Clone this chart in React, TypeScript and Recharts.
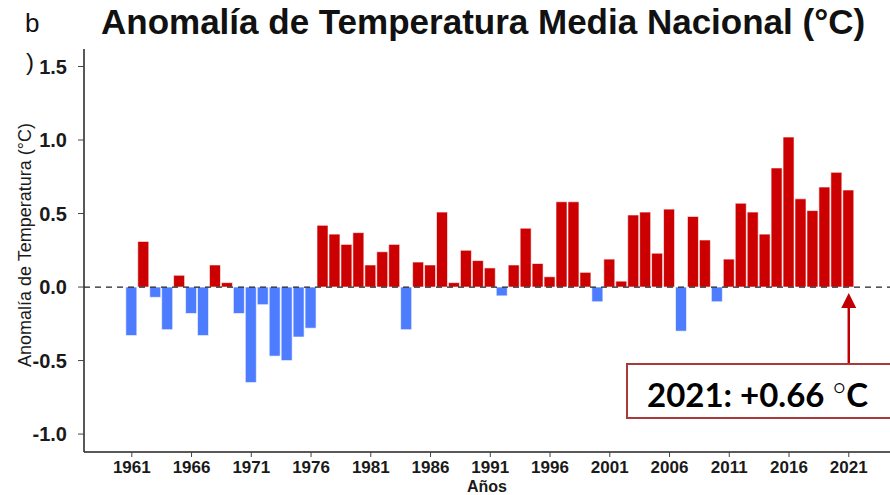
import { Bar, BarChart, Cell, ReferenceLine, XAxis, YAxis } from "recharts";

// Anomalía anual de temperatura media nacional (°C), 1961-2021
const years = [
  1961, 1962, 1963, 1964, 1965, 1966, 1967, 1968, 1969, 1970,
  1971, 1972, 1973, 1974, 1975, 1976, 1977, 1978, 1979, 1980,
  1981, 1982, 1983, 1984, 1985, 1986, 1987, 1988, 1989, 1990,
  1991, 1992, 1993, 1994, 1995, 1996, 1997, 1998, 1999, 2000,
  2001, 2002, 2003, 2004, 2005, 2006, 2007, 2008, 2009, 2010,
  2011, 2012, 2013, 2014, 2015, 2016, 2017, 2018, 2019, 2020, 2021,
];
const anomalies = [
  -0.33, 0.31, -0.07, -0.29, 0.08, -0.18, -0.33, 0.15, 0.03, -0.18,
  -0.65, -0.12, -0.47, -0.5, -0.34, -0.28, 0.42, 0.36, 0.29, 0.37,
  0.15, 0.24, 0.29, -0.29, 0.17, 0.15, 0.51, 0.03, 0.25, 0.18,
  0.13, -0.06, 0.15, 0.4, 0.16, 0.07, 0.58, 0.58, 0.1, -0.1,
  0.19, 0.04, 0.49, 0.51, 0.23, 0.53, -0.3, 0.48, 0.32, -0.1,
  0.19, 0.57, 0.51, 0.36, 0.81, 1.02, 0.6, 0.52, 0.68, 0.78, 0.66,
];
const xTicks = [1961, 1966, 1971, 1976, 1981, 1986, 1991, 1996, 2001, 2006, 2011, 2016, 2021];
const yTicks = [-1.0, -0.5, 0, 0.5, 1.0, 1.5];

const data = years.map((year, i) => ({ year, anomaly: anomalies[i] }));

const RED = "#cc0000";
const BLUE = "#4d7cff";
const FONT = "Arial, 'Liberation Sans', sans-serif";

// arrow pointing up at the 2021 bar
function Arrow(props: any) {
  const { x1, y1, y2 } = props;
  const top = Math.min(y1, y2);
  const bottom = Math.max(y1, y2);
  return (
    <g>
      <line x1={x1} x2={x1} y1={top + 12} y2={bottom} stroke="#c00000" strokeWidth={2.5} />
      <polygon points={`${x1},${top} ${x1 - 7.5},${top + 15} ${x1 + 7.5},${top + 15}`} fill="#c00000" />
    </g>
  );
}

export default function App() {
  return (
    <div
      style={{
        position: "absolute",
        left: 0,
        top: 0,
        width: 890,
        height: 495,
        overflow: "hidden",
        background: "#fff",
        fontFamily: FONT,
      }}
    >
      <BarChart
        width={890}
        height={495}
        data={data}
        margin={{ top: 49, right: 0, bottom: 0, left: 0 }}
      >
        <XAxis
          dataKey="year"
          type="number"
          domain={[1957, 2024.45]}
          ticks={xTicks}
          interval={0}
          height={43}
          tickSize={5}
          tickMargin={4}
          axisLine={{ stroke: "#222", strokeWidth: 1.5 }}
          tickLine={{ stroke: "#444" }}
          tick={{ fill: "#1a1a1a", fontSize: 17, fontWeight: "bold", fontFamily: FONT }}
          label={{
            value: "Años",
            position: "insideBottom",
            offset: 3,
            fill: "#1a1a1a",
            fontSize: 16,
            fontWeight: "bold",
            fontFamily: FONT,
          }}
        />
        <YAxis
          type="number"
          domain={[-1.122, 1.619]}
          ticks={yTicks}
          width={84}
          tickSize={6}
          tickMargin={11}
          tickFormatter={(v: number) => v.toFixed(1)}
          axisLine={{ stroke: "#222", strokeWidth: 1.5 }}
          tickLine={{ stroke: "#444" }}
          tick={{ fill: "#1a1a1a", fontSize: 20, fontWeight: "bold", fontFamily: FONT }}
        />
        <Bar dataKey="anomaly" barSize={11} stroke="#ffffff" strokeWidth={0.6} isAnimationActive={false}>
          {data.map((d) => (
            <Cell key={d.year} fill={d.anomaly >= 0 ? RED : BLUE} />
          ))}
        </Bar>
        <ReferenceLine y={0} stroke="#222" strokeWidth={1.3} strokeDasharray="6 5" />
        <ReferenceLine
          segment={[
            { x: 2021, y: -0.04 },
            { x: 2021, y: -0.517 },
          ]}
          shape={Arrow}
        />
      </BarChart>

      <div style={{ position: "absolute", left: 101, top: 2, fontSize: 35, fontWeight: "bold", color: "#111", whiteSpace: "nowrap" }}>
        Anomalía de Temperatura Media Nacional (°C)
      </div>
      <div style={{ position: "absolute", left: 25, top: 8, fontSize: 26, color: "#111" }}>b</div>
      <div style={{ position: "absolute", left: 26, top: 48, fontSize: 24, color: "#111" }}>)</div>
      <div
        style={{
          position: "absolute",
          left: 25,
          top: 245,
          transform: "translate(-50%, -50%) rotate(-90deg)",
          fontSize: 18,
          color: "#1a1a1a",
          whiteSpace: "nowrap",
        }}
      >
        Anomalía de Temperatura (°C)
      </div>
      <div
        style={{
          position: "absolute",
          left: 626,
          top: 363,
          width: 300,
          height: 52,
          border: "2px solid #a83a3a",
          background: "#fff",
          boxSizing: "content-box",
        }}
      >
        <div
          style={{
            position: "absolute",
            left: 19,
            top: 9,
            fontFamily: "Lato, 'Open Sans', sans-serif",
            fontWeight: "bold",
            fontSize: 33,
            color: "#000",
            whiteSpace: "nowrap",
          }}
        >
          2021: +0.66 <span style={{ fontWeight: 300 }}>°</span>C
        </div>
      </div>
    </div>
  );
}
